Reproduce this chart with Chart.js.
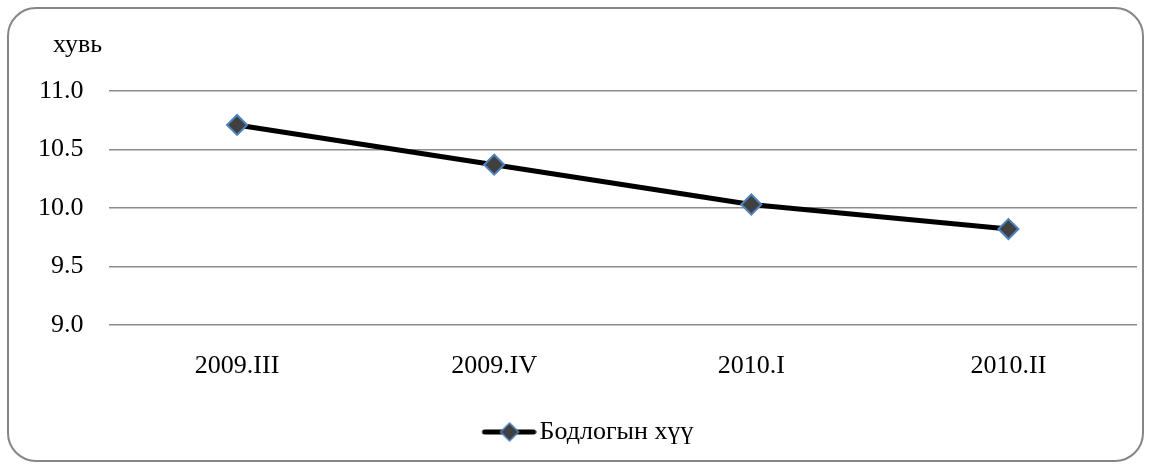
<!DOCTYPE html>
<html>
<head>
<meta charset="utf-8">
<script src="https://cdn.jsdelivr.net/npm/chart.js@4"></script>
<style>
  html, body { margin: 0; padding: 0; background: #fff; }
  #wrap { width: 1153px; height: 464px; }
</style>
</head>
<body>
<div id="wrap"><canvas id="rateChart"></canvas></div>
<script>
const quarters = ['2009.III', '2009.IV', '2010.I', '2010.II'];
const policyRate = [10.71, 10.37, 10.03, 9.82];
const yTicks = [9.0, 9.5, 10.0, 10.5, 11.0];
const seriesName = 'Бодлогын хүү';
const unitLabel = 'хувь';

const FONT = '"Liberation Serif", "Times New Roman", serif';
const FS = 26;

// legend icon: thick line with diamond, drawn in the right part of a wider image
function legendIcon() {
  const c = document.createElement('canvas');
  c.width = 90; c.height = 22;
  const g = c.getContext('2d');
  const x0 = 35;
  g.strokeStyle = '#000';
  g.lineWidth = 5;
  g.lineCap = 'round';
  g.beginPath();
  g.moveTo(x0 + 3, 11); g.lineTo(x0 + 52, 11);
  g.stroke();
  const cx = x0 + 28;
  g.beginPath();
  g.moveTo(cx, 2); g.lineTo(cx + 9, 11); g.lineTo(cx, 20); g.lineTo(cx - 9, 11);
  g.closePath();
  g.fillStyle = '#404040';
  g.fill();
  g.strokeStyle = '#4f81bd';
  g.lineWidth = 1.5;
  g.stroke();
  return c;
}

const frame = {
  id: 'frame',
  beforeDraw(chart) {
    const ctx = chart.ctx;
    ctx.save();
    ctx.fillStyle = '#fff';
    ctx.fillRect(0, 0, chart.width, chart.height);
    ctx.beginPath();
    ctx.roundRect(8, 8, 1135, 453, 28);
    ctx.strokeStyle = '#868686';
    ctx.lineWidth = 2;
    ctx.stroke();
    ctx.restore();
  },
  afterDraw(chart) {
    const ctx = chart.ctx;
    ctx.save();
    ctx.font = FS + 'px ' + FONT;
    ctx.fillStyle = '#000';
    ctx.textAlign = 'left';
    ctx.textBaseline = 'middle';
    ctx.fillText(unitLabel, 53, chart.chartArea.top - 46);
    ctx.restore();
  }
};

const icon = legendIcon();

new Chart(document.getElementById('rateChart'), {
  type: 'line',
  data: {
    labels: quarters,
    datasets: [{
      label: seriesName,
      data: policyRate,
      borderColor: '#000',
      borderWidth: 5,
      tension: 0,
      pointStyle: 'rectRot',
      pointRadius: 10,
      pointBackgroundColor: '#404040',
      pointBorderColor: '#4f81bd',
      pointBorderWidth: 2
    }]
  },
  options: {
    responsive: true,
    maintainAspectRatio: false,
    animation: false,
    layout: { padding: { left: 13, right: 16, top: 91, bottom: 9 } },
    scales: {
      x: {
        offset: true,
        grid: { display: false },
        border: { display: false },
        ticks: { color: '#000', font: { family: FONT, size: FS }, padding: 18 },
        afterFit(axis) { axis.height = 84; }
      },
      y: {
        min: 9,
        max: 11,
        afterBuildTicks(axis) { axis.ticks = yTicks.map(v => ({ value: v })); },
        grid: { color: '#8c8c8c', lineWidth: 1.5, drawTicks: false },
        border: { display: false },
        ticks: {
          color: '#000',
          font: { family: FONT, size: FS },
          padding: 25,
          callback: v => v.toFixed(1)
        }
      }
    },
    plugins: {
      tooltip: { enabled: false },
      legend: {
        position: 'bottom',
        labels: {
          color: '#000',
          font: { family: FONT, size: FS },
          usePointStyle: true,
          pointStyleWidth: 70,
          padding: 10,
          generateLabels: chart => [{
            text: seriesName,
            pointStyle: icon,
            fontColor: '#000',
            datasetIndex: 0
          }]
        }
      }
    }
  },
  plugins: [frame]
});
</script>
</body>
</html>
